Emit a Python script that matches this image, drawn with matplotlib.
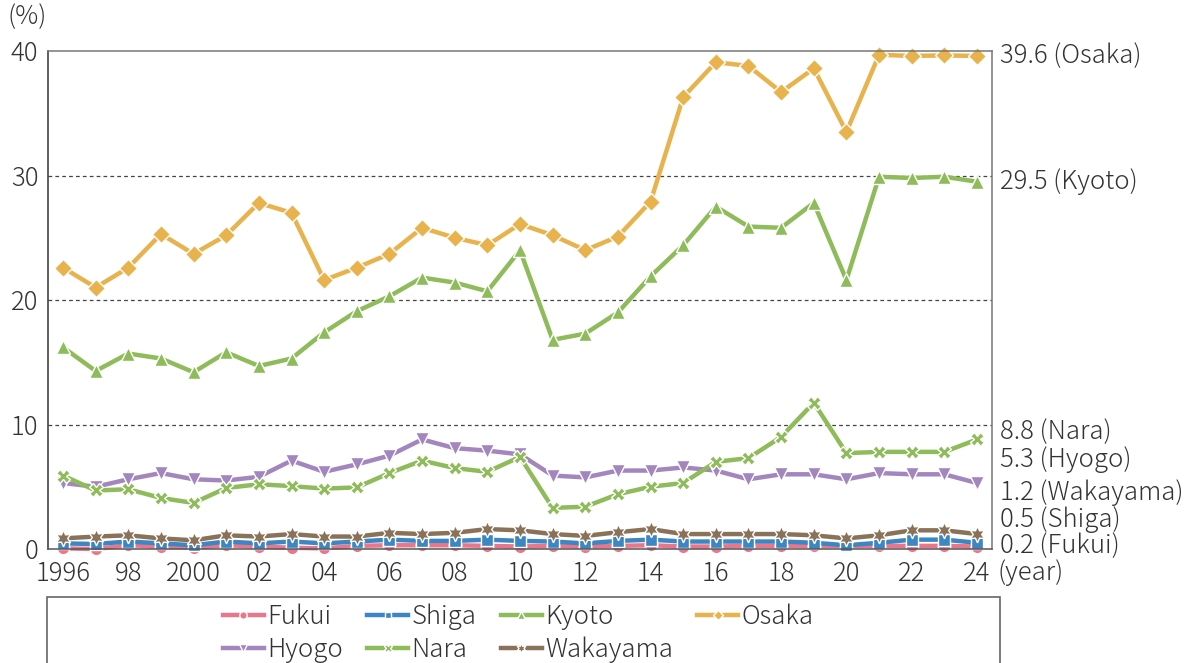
import numpy as np
import matplotlib
matplotlib.use('Agg')
import matplotlib.pyplot as plt
import matplotlib.transforms as mtransforms
from matplotlib.patches import Rectangle

plt.rcParams['font.family'] = ['Noto Sans CJK JP', 'DejaVu Sans']
plt.rcParams['font.weight'] = 'light'

years = list(range(1996, 2025))
year_labels = ['1996', '98', '2000', '02', '04', '06', '08', '10', '12',
               '14', '16', '18', '20', '22', '24']

fukui = [0.05, 0.0, 0.3, 0.2, 0.1, 0.3, 0.2, 0.1, 0.05, 0.25, 0.3, 0.3, 0.3, 0.25, 0.2,
         0.25, 0.2, 0.25, 0.3, 0.2, 0.2, 0.25, 0.25, 0.25, 0.25, 0.25, 0.25, 0.25, 0.2]
shiga = [0.45, 0.4, 0.6, 0.45, 0.3, 0.6, 0.45, 0.6, 0.45, 0.6, 0.75, 0.65, 0.65, 0.75, 0.65,
         0.6, 0.45, 0.65, 0.75, 0.6, 0.6, 0.6, 0.6, 0.5, 0.3, 0.5, 0.75, 0.75, 0.5]
kyoto = [16.2, 14.3, 15.7, 15.3, 14.2, 15.8, 14.7, 15.3, 17.4, 19.1, 20.3, 21.8, 21.4, 20.7, 24.0,
         16.8, 17.3, 19.0, 21.9, 24.4, 27.5, 25.9, 25.8, 27.8, 21.6, 29.9, 29.8, 29.9, 29.5]
osaka = [22.6, 21.0, 22.6, 25.3, 23.7, 25.2, 27.8, 27.0, 21.6, 22.6, 23.7, 25.8, 25.0, 24.4, 26.1,
         25.2, 24.0, 25.1, 27.9, 36.3, 39.1, 38.8, 36.7, 38.6, 33.5, 39.7, 39.6, 39.65, 39.6]
hyogo = [5.3, 5.0, 5.6, 6.1, 5.6, 5.5, 5.8, 7.1, 6.2, 6.8, 7.5, 8.8, 8.1, 7.9, 7.6,
         5.9, 5.75, 6.3, 6.3, 6.55, 6.3, 5.6, 6.0, 6.0, 5.6, 6.1, 6.0, 6.0, 5.3]
nara = [5.9, 4.7, 4.8, 4.1, 3.7, 4.9, 5.2, 5.05, 4.85, 4.95, 6.1, 7.1, 6.5, 6.2, 7.4,
        3.3, 3.4, 4.4, 5.0, 5.3, 7.0, 7.3, 9.0, 11.75, 7.7, 7.8, 7.8, 7.8, 8.8]
wakayama = [0.85, 1.0, 1.1, 0.85, 0.7, 1.1, 1.0, 1.2, 1.0, 1.0, 1.3, 1.2, 1.3, 1.6, 1.5,
            1.2, 1.05, 1.35, 1.6, 1.2, 1.2, 1.2, 1.2, 1.1, 0.85, 1.1, 1.5, 1.5, 1.2]

names = ['Fukui', 'Shiga', 'Kyoto', 'Osaka', 'Hyogo', 'Nara', 'Wakayama']
series = [fukui, shiga, kyoto, osaka, hyogo, nara, wakayama]
colors = ['#E8778C', '#3C86C4', '#8FBC5A', '#E8B24C', '#A386BD', '#8FBC5A', '#8A7259']
markers = ['o', 's', '^', 'D', 'v', 'X', (6, 1, 0)]
msizes = [9, 8, 10, 9, 10, 10, 12]

# right side end labels (text, y position of label)
end_labels = ['39.6 (Osaka)', '29.5 (Kyoto)', '8.8 (Nara)', '5.3 (Hyogo)',
              '1.2 (Wakayama)', '0.5 (Shiga)', '0.2 (Fukui)']
end_label_y = [39.6, 29.5, 9.4, 7.15, 4.5, 2.33, 0.22]

W, H = 1189, 663
fig = plt.figure(figsize=(W / 100, H / 100), dpi=100)
ax = fig.add_axes([48 / W, 1 - 549 / H, (992 - 48) / W, (549 - 51) / H])

txt = '#333333'
fs = 18.5
handles = []
for name, vals, c, m, ms in zip(names, series, colors, markers, msizes):
    h, = ax.plot(years, vals, color=c, lw=3.2, marker=m, markersize=ms,
                 markeredgecolor='white', markeredgewidth=1.0, label=name,
                 solid_joinstyle='round', clip_on=False)
    handles.append(h)

ax.set_xlim(1995.54, 2024.46)
ax.set_ylim(0, 40)
ax.set_yticks([0, 10, 20, 30, 40])
ax.set_xticks(years[::2])
ax.set_xticklabels(year_labels)
ax.tick_params(length=0, labelsize=fs, colors=txt)
ax.tick_params(axis='y', pad=7)
ax.tick_params(axis='x', pad=8)

for y in [10, 20, 30]:
    ax.axhline(y, color='#444444', lw=0.9, ls=(0, (3, 2.5)), zorder=0)

ax.spines['left'].set_color('#333333')
ax.spines['bottom'].set_color('#555555')
ax.spines['top'].set_color('#777777')
ax.spines['right'].set_color('#777777')
for s in ax.spines.values():
    s.set_linewidth(1.1)

trans = mtransforms.blended_transform_factory(ax.transAxes, ax.transData)
for lab, yy in zip(end_labels, end_label_y):
    ax.text(1.0085, yy, lab, transform=trans, va='center', ha='left',
            fontsize=fs, color=txt)

fig.text(7 / W, 1 - 17 / H, '(%)', fontsize=fs, color=txt, va='center', ha='left')
fig.text(998 / W, 1 - 573 / H, '(year)', fontsize=fs, color=txt, va='center', ha='left')

# legend box (runs off the bottom edge)
rect = Rectangle((47 / W, -0.05), (1000 - 47) / W, (1 - 597 / H) + 0.05,
                 transform=fig.transFigure, fill=False, edgecolor='#666666', lw=1.2)
fig.patches.append(rect)

order = [0, 4, 1, 5, 2, 6, 3]
fig.legend([handles[i] for i in order], [names[i] for i in order],
           ncol=4, loc='center', bbox_to_anchor=(518 / W, 1 - 633 / H),
           frameon=False, fontsize=fs, handlelength=1.6, handletextpad=0.12,
           columnspacing=0.95, labelspacing=0.25, labelcolor=txt, markerscale=0.6)

fig.savefig('out.png', dpi=100)
